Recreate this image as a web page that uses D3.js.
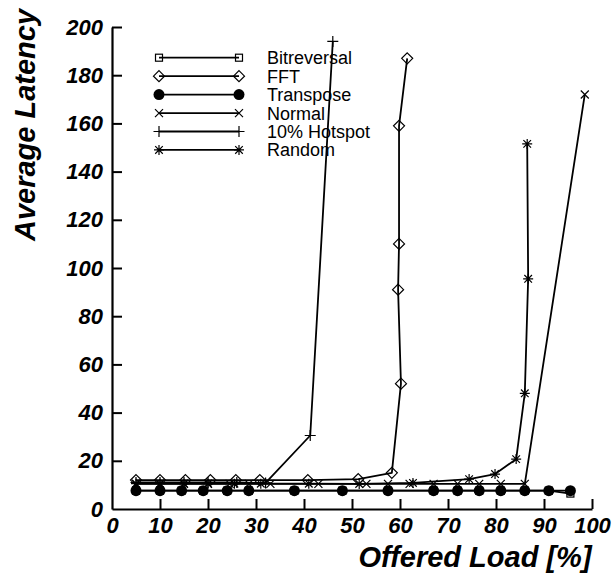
<!DOCTYPE html>
<html><head><meta charset="utf-8">
<script src="https://cdn.jsdelivr.net/npm/d3@7"></script>
<style>body{margin:0;background:#fff}svg{display:block}</style>
</head><body>
<svg id="c" width="615" height="573"></svg>
<script>
// ---- data ----
const seriesNames = ["Bitreversal","FFT","Transpose","Normal","10% Hotspot","Random"];
const bitreversalX = [5,10,14.5,19,24,28.5,38,48,57.5,67,72,76.5,81,86,91,95.5];
const bitreversalY = [7.6,7.6,7.6,7.6,7.6,7.6,7.6,7.6,7.6,7.6,7.6,7.6,7.6,7.6,7.6,6.4];
const fftX = [5,10,15.3,20.5,25.8,30.8,40.8,51.3,58.3,60.2,59.6,59.8,59.8,61.5];
const fftY = [12,12,12,12,12,12,12,12.4,15,52,91,110,159,187];
const transposeX = [5,10,14.5,19,24,28.5,38,48,57.5,67,72,76.5,81,86,91,95.5];
const transposeY = [7.6,7.6,7.6,7.6,7.6,7.6,7.6,7.6,7.6,7.6,7.6,7.6,7.6,7.6,7.6,7.6];
const normalX = [5,10,15,20,24.5,28.5,33,43,53,57.5,62,67,72,76.5,81,86,98.5];
const normalY = [10.4,10.4,10.4,10.4,10.4,10.4,10.4,10.4,10.4,10.4,10.4,10.4,10.4,10.4,10.4,10.4,172];
const hotspotX = [5,10,15,20,26,32,41.3,46];
const hotspotY = [11,11,11,11,11,10.8,30.5,194];
const randomX = [5,10,15,20,25.5,31,41,51.5,62.7,74.4,79.8,84.2,86,86.7,86.5];
const randomY = [10.5,10.5,10.5,10.5,10.5,10.5,10.5,10.4,10.8,12.4,14.5,20.7,48,95.5,151.5];
const xTicks = [0,10,20,30,40,50,60,70,80,90,100];
const yTicks = [0,20,40,60,80,100,120,140,160,180,200];

const series = [
  {name: seriesNames[0], xs: bitreversalX, ys: bitreversalY, mark: "square"},
  {name: seriesNames[1], xs: fftX, ys: fftY, mark: "diamond"},
  {name: seriesNames[2], xs: transposeX, ys: transposeY, mark: "circle"},
  {name: seriesNames[3], xs: normalX, ys: normalY, mark: "cross"},
  {name: seriesNames[4], xs: hotspotX, ys: hotspotY, mark: "plus"},
  {name: seriesNames[5], xs: randomX, ys: randomY, mark: "star"}
];

const svg = d3.select("#c");
const FONT = "'Liberation Sans', Arial, Helvetica, sans-serif";
const x = d3.scaleLinear().domain([0,100]).range([112,592]);
const y = d3.scaleLinear().domain([0,200]).range([509,27]);

function drawMark(g, type, cx, cy) {
  const s = g.append("g").attr("transform", `translate(${cx},${cy})`)
    .attr("stroke", "#000").attr("stroke-width", 1.2).attr("fill", "none");
  if (type === "square") s.append("rect").attr("x",-3.5).attr("y",-3.5).attr("width",7).attr("height",7);
  else if (type === "diamond") s.append("path").attr("d","M0,-5.5L5.5,0L0,5.5L-5.5,0Z");
  else if (type === "circle") s.append("circle").attr("r",5.5).attr("fill","#000").attr("stroke","none");
  else if (type === "cross") s.append("path").attr("d","M-4,-4L4,4M-4,4L4,-4");
  else if (type === "plus") s.append("path").attr("d","M-5.5,0L5.5,0M0,-5.5L0,5.5");
  else if (type === "star") s.append("path").attr("d","M-5,0L5,0M0,-5L0,5M-3.8,-3.8L3.8,3.8M-3.8,3.8L3.8,-3.8");
}

// axes
const xAxis = d3.axisBottom(x).tickValues(xTicks).tickSizeInner(-10).tickSizeOuter(0).tickPadding(8);
const yAxis = d3.axisLeft(y).tickValues(yTicks).tickSizeInner(-10).tickSizeOuter(0).tickPadding(9);
const gx = svg.append("g").attr("transform","translate(0,509)").call(xAxis);
const gy = svg.append("g").attr("transform","translate(112,0)").call(yAxis);
[gx, gy].forEach(g => {
  g.select(".domain").attr("stroke","#000").attr("stroke-width",2.2);
  g.selectAll(".tick line").attr("stroke","#000").attr("stroke-width",2);
  g.selectAll(".tick text").attr("font-family",FONT).attr("font-size",22)
    .attr("font-weight","bold").attr("font-style","italic").attr("fill","#000");
});
gx.selectAll(".tick").filter(d => d === 0).select("line").remove();
gy.selectAll(".tick").filter(d => d === 0).select("line").remove();

// axis titles
svg.append("text").attr("x",475).attr("y",567).attr("text-anchor","middle")
  .attr("font-family",FONT).attr("font-size",29).attr("font-weight","bold").attr("font-style","italic")
  .text("Offered Load [%]");
svg.append("text").attr("transform","translate(35,125) rotate(-90)").attr("text-anchor","middle")
  .attr("font-family",FONT).attr("font-size",29).attr("font-weight","bold").attr("font-style","italic")
  .text("Average Latency");

// lines and markers
const line = d3.line().x(d => x(d[0])).y(d => y(d[1]));
series.forEach(s => {
  const pts = s.xs.map((v,i) => [v, s.ys[i]]);
  svg.append("path").datum(pts).attr("d", line).attr("fill","none")
    .attr("stroke","#000").attr("stroke-width",1.8).attr("stroke-linejoin","round");
  const mg = svg.append("g");
  pts.forEach(p => drawMark(mg, s.mark, x(p[0]), y(p[1])));
});

// legend
const lg = svg.append("g");
series.forEach((s,i) => {
  const ly = 57.7 + 18.45*i;
  lg.append("line").attr("x1",159).attr("x2",239).attr("y1",ly).attr("y2",ly)
    .attr("stroke","#000").attr("stroke-width",1.8);
  drawMark(lg, s.mark, 159, ly);
  drawMark(lg, s.mark, 239, ly);
  lg.append("text").attr("x",267).attr("y",ly+6.5).attr("font-family",FONT)
    .attr("font-size",18).attr("fill","#000").text(s.name);
});
</script>
</body></html>
